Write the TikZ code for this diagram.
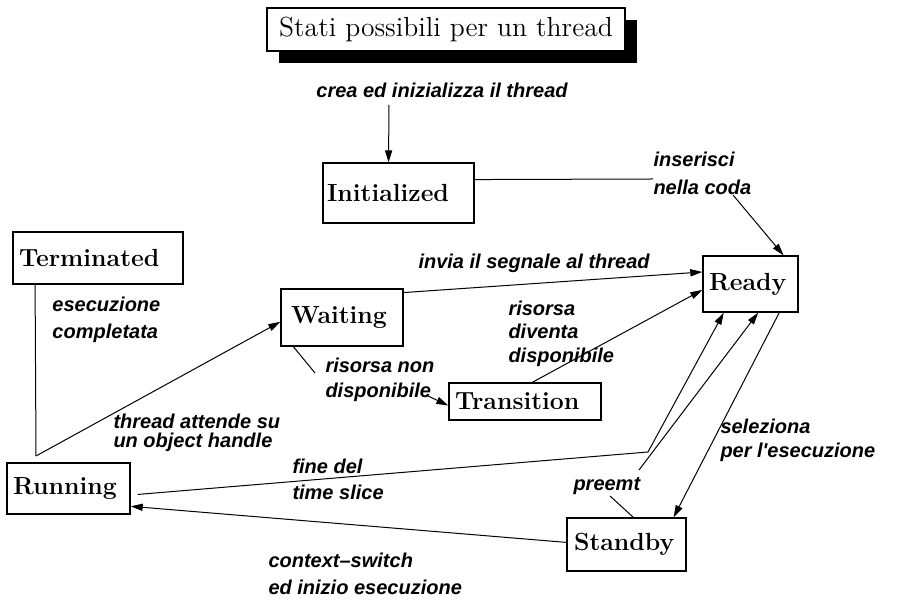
\documentclass[tikz,border=0pt]{standalone}
\usepackage{fontspec}
\newfontfamily\lblfont{Liberation Sans}
\usetikzlibrary{arrows.meta,shadows}
\tikzset{
  state/.style={draw,line width=.7pt,fill=white,inner ysep=0pt,inner xsep=3pt,align=left,font=\fontsize{12.4}{14}\selectfont\bfseries},
  lbl/.style={anchor=west,align=left,inner sep=0pt,font=\lblfont\bfseries\itshape\fontsize{10}{#1}\selectfont},
  lbl/.default=13.5,
  arr/.style={-{Triangle[length=6pt,width=3.6pt]}}
}
\begin{document}
\begin{tikzpicture}[x=.5pt,y=-.5pt,line width=.5pt]
\useasboundingbox (0,0) rectangle (907,608);
\node[draw,line width=.7pt,fill=white,minimum width=179pt,minimum height=21.5pt,inner sep=0pt,font=\fontsize{13.8}{16}\selectfont,
  drop shadow={shadow xshift=6pt,shadow yshift=-6pt,fill=black,opacity=1}] (title) at (446,29.5) {Stati possibili per un thread};
\node[state,inner xsep=2pt,text width=71.5pt,minimum height=30pt] (init) at (398.5,193) {Initialized};
\node[state,text width=79pt,minimum height=26pt] (term) at (98,258) {Terminated};
\node[state,inner xsep=5pt,text width=51pt,minimum height=28.5pt] (wait) at (342,317.5) {Waiting};
\node[state,text width=41.5pt,minimum height=28pt] (ready) at (750.5,284) {Ready};
\node[state,text width=70pt,minimum height=18.5pt] (trans) at (525,401.5) {Transition};
\node[state,text width=55.5pt,minimum height=25.5pt] (run) at (68.5,488.5) {Running};
\node[state,inner xsep=3.5pt,text width=52.5pt,minimum height=26.5pt] (stby) at (626.5,544.5) {Standby};
\node[lbl,anchor=center] (lcrea) at (442,90) {crea ed inizializza il thread};
\node[lbl=14] (lins) at (653,173) {inserisci\\nella coda};
\node[lbl] (linvia) at (418,263) {invia il segnale al thread};
\node[lbl=13.5] (lesec) at (52,319.5) {esecuzione\\completata};
\node[lbl=11.75] (ldiv) at (508,333.5) {risorsa\\diventa\\disponibile};
\node[lbl=12.5] (lnon) at (325,379.5) {risorsa non\\disponibile};
\node[lbl=9.5] (latt) at (113,432.5) {thread attende su\\un object handle};
\node[lbl=13] (lfine) at (292,479) {fine del\\time slice};
\node[lbl] (lpre) at (573,486) {preemt};
\node[lbl=12] (lsel) at (720,440) {seleziona\\per l'esecuzione};
\node[lbl=13.5] (lctx) at (268,573.5) {context\textendash switch\\ed inizio esecuzione};
\coordinate (creatop) at (389,105);
\coordinate (insA) at (653,179);
\coordinate (insB) at (733,195);
\coordinate (runtop) at (36,456);
\coordinate (nonA) at (315,373);
\coordinate (nonB) at (428,396);
\coordinate (fineA) at (648,452);
\coordinate (preA) at (610,496);
\coordinate (preB) at (639,470);
\draw[arr] (creatop) -- (init.108);
\draw (init.10) -- (insA);
\draw[arr] (insB) -- (ready.41);
\draw[arr] (wait.22) -- (ready.166);
\draw (term.203) -- (runtop);
\draw[arr] (runtop) -- (wait.184);
\draw (wait.211) -- (nonA);
\draw[arr] (nonB) -- (trans.183);
\draw[arr] (trans.69) -- (ready.187);
\draw[arr,shorten <=3.5pt] (run.354) -- (fineA) -- (ready.227);
\draw (stby.76) -- (preA);
\draw[arr] (preB) -- (ready.285);
\draw[arr] (ready.315) -- (stby.30);
\draw[arr] (stby.178) -- (run.344);
\end{tikzpicture}
\end{document}
